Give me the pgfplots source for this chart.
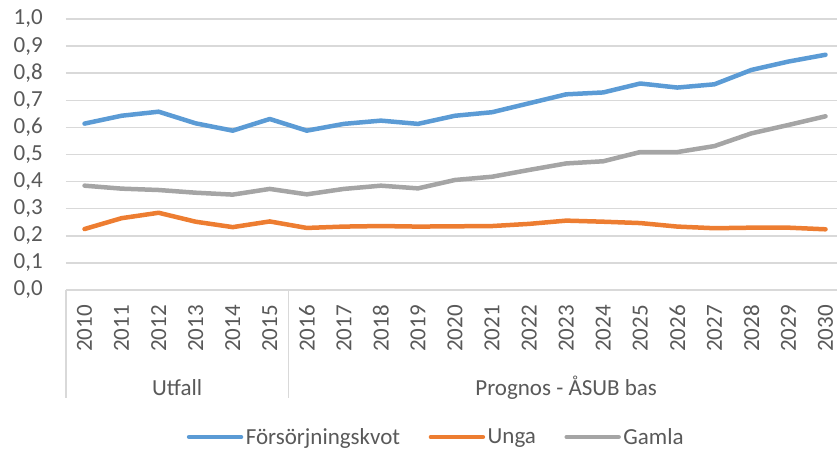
\documentclass[border=0pt]{standalone}
\usepackage{pgfplots}
\usepackage{pgfplotstable}
\pgfplotsset{compat=1.18}
\usepackage{fontspec}
\setmainfont{Carlito}
\definecolor{cblue}{HTML}{5B9BD5}
\definecolor{corange}{HTML}{ED7D31}
\definecolor{cgray}{HTML}{A5A5A5}
\definecolor{ctext}{HTML}{595959}
\definecolor{cgrid}{HTML}{D9D9D9}
\pgfplotstableread{
i F U G
0 0.614 0.225 0.385
1 0.643 0.265 0.374
2 0.658 0.285 0.369
3 0.615 0.252 0.359
4 0.588 0.232 0.352
5 0.631 0.253 0.373
6 0.588 0.229 0.353
7 0.613 0.234 0.373
8 0.625 0.236 0.385
9 0.613 0.234 0.375
10 0.643 0.235 0.406
11 0.656 0.236 0.418
12 0.689 0.244 0.443
13 0.722 0.256 0.467
14 0.729 0.252 0.475
15 0.762 0.247 0.509
16 0.747 0.234 0.509
17 0.759 0.228 0.531
18 0.812 0.230 0.578
19 0.843 0.230 0.609
20 0.868 0.224 0.641
}\datatab
\newcommand{\bigf}{\fontsize{23}{27}\selectfont}
\begin{document}
\begin{tikzpicture}
\useasboundingbox (-66pt,-160pt) rectangle (771pt,290pt);
\begin{axis}[
  at={(0pt,0pt)}, anchor=south west,
  scale only axis, width=771pt, height=271pt,
  xmin=-0.5, xmax=20.31, ymin=0, ymax=1,
  clip=false,
  axis line style={draw=none},
  major tick length=0pt,
  ytick={0,0.1,0.2,0.3,0.4,0.5,0.6,0.7,0.8,0.9,1.0},
  ymajorgrids, major grid style={color=cgrid, line width=1.5pt},
  xtick={0,...,20},
  xticklabels={2010,2011,2012,2013,2014,2015,2016,2017,2018,2019,2020,2021,2022,2023,2024,2025,2026,2027,2028,2029,2030},
  tick label style={font=\bigf, text=ctext},
  yticklabel style={inner sep=0pt},
  yticklabel shift=23pt,
  xticklabel style={rotate=90, anchor=east, inner sep=0pt},
  xticklabel shift=15pt,
  /pgf/number format/.cd, use comma, fixed, fixed zerofill, precision=1, assume math mode=true,
  /pgfplots/.cd,
  legend columns=3,
  legend style={at={(0.4805,-0.5424)}, anchor=center, draw=none, fill=none,
    font=\bigf, text=ctext, inner sep=0pt,
    nodes={inner sep=2.5pt},
    /tikz/every even column/.append style={column sep=26pt}},
  legend image code/.code={\draw[#1, line cap=round] (0pt,0pt) -- (52pt,0pt);},
]
\addplot[cblue, line width=4.5pt, line join=round, line cap=round] table[x=i, y=F] {\datatab};
\addlegendentry{Försörjningskvot}
\addplot[corange, line width=4.5pt, line join=round, line cap=round] table[x=i, y=U] {\datatab};
\addlegendentry{Unga}
\addplot[cgray, line width=4.5pt, line join=round, line cap=round] table[x=i, y=G] {\datatab};
\addlegendentry{Gamla}
\draw[cgrid, line width=1.5pt] (axis cs:-0.5,0) -- ++(0pt,-108pt);
\draw[cgrid, line width=1.5pt] (axis cs:5.5,0) -- ++(0pt,-108pt);
\node[anchor=base, text=ctext, font=\bigf, inner sep=0pt] at ([yshift=-105pt]axis cs:2.5,0) {Utfall};
\node[anchor=base, text=ctext, font=\bigf, inner sep=0pt] at ([yshift=-105pt]axis cs:13,0) {Prognos - ÅSUB bas};
\end{axis}
\end{tikzpicture}
\end{document}
